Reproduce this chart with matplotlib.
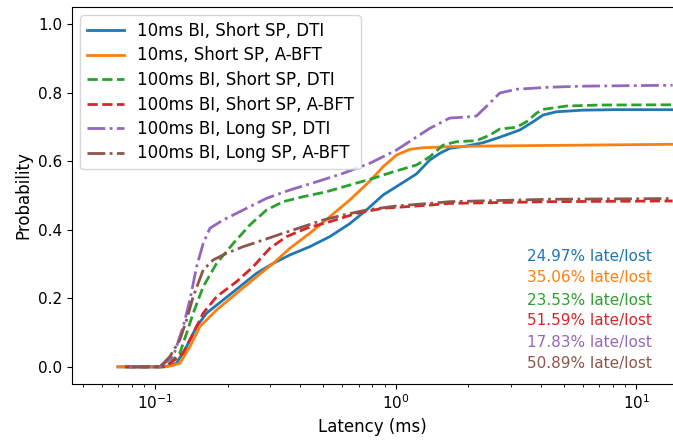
import matplotlib
matplotlib.use("Agg")
import matplotlib.pyplot as plt

# CDF de latência
labels = [
    "10ms BI, Short SP, DTI",
    "10ms, Short SP, A-BFT",
    "100ms BI, Short SP, DTI",
    "100ms BI, Short SP, A-BFT",
    "100ms BI, Long SP, DTI",
    "100ms BI, Long SP, A-BFT",
]
late_lost = ["24.97", "35.06", "23.53", "51.59", "17.83", "50.89"]

x_bi10_dti = [0.070, 0.108, 0.116, 0.1227, 0.1350, 0.1486, 0.1635, 0.1917, 0.2249,
              0.2638, 0.3093, 0.3628, 0.4393, 0.5318, 0.6441, 0.7555, 0.8856, 1.0390,
              1.2190, 1.3845, 1.5232, 1.6769, 1.9667, 2.3050, 2.7045, 3.2738, 3.7193,
              4.0926, 4.6521, 6.0006, 8.2583, 14.15]
y_bi10_dti = [0.0, 0.0, 0.004, 0.011, 0.059, 0.1175, 0.1566, 0.1953, 0.234,
              0.273, 0.302, 0.3265, 0.3507, 0.380, 0.418, 0.4577, 0.5015, 0.532,
              0.563, 0.6035, 0.623, 0.6376, 0.6443, 0.654, 0.670, 0.691, 0.715,
              0.7347, 0.7443, 0.749, 0.7505, 0.7503]

x_bi10_abft = [0.070, 0.110, 0.118, 0.1266, 0.1394, 0.1533, 0.1800, 0.2179, 0.2638,
               0.3093, 0.3628, 0.4393, 0.5318, 0.6441, 0.7798, 0.8856, 1.0068, 1.1435,
               1.2983, 1.6769, 2.3050, 14.15]
y_bi10_abft = [0.0, 0.0, 0.004, 0.0108, 0.059, 0.1175, 0.166, 0.2149, 0.263,
               0.302, 0.346, 0.390, 0.438, 0.487, 0.542, 0.584, 0.618, 0.6347,
               0.6394, 0.6423, 0.6443, 0.6494]

x_bi100_dti = [0.075, 0.1046, 0.1115, 0.1266, 0.1350, 0.1439, 0.1583, 0.1800, 0.2110,
               0.2474, 0.2903, 0.3403, 0.4120, 0.5154, 0.6441, 0.8048, 0.9745, 1.2190,
               1.3845, 1.5720, 1.7878, 2.1640, 2.4580, 2.7045, 3.1721, 3.4912, 3.8420,
               4.0926, 5.1192, 7.0389, 14.15]
y_bi100_dti = [0.0, 0.0, 0.002, 0.040, 0.098, 0.1566, 0.234, 0.302, 0.360,
               0.414, 0.4577, 0.482, 0.4965, 0.511, 0.5306, 0.550, 0.569, 0.589,
               0.613, 0.647, 0.657, 0.660, 0.676, 0.694, 0.699, 0.715, 0.740,
               0.7513, 0.761, 0.764, 0.7647]

x_bi100_abft = [0.075, 0.1046, 0.1115, 0.1307, 0.1439, 0.1583, 0.1800, 0.2179, 0.2554,
                0.2996, 0.3515, 0.4256, 0.5318, 0.6866, 0.8856, 1.3845, 1.6769, 4.3634,
                14.15]
y_bi100_abft = [0.0, 0.0, 0.002, 0.040, 0.098, 0.1566, 0.205, 0.2487, 0.2924,
                0.346, 0.380, 0.4044, 0.4236, 0.448, 0.4627, 0.472, 0.477, 0.482,
                0.4841]

x_long_dti = [0.078, 0.1046, 0.1188, 0.1307, 0.1394, 0.1486, 0.1583, 0.1688, 0.1917,
              0.2321, 0.2903, 0.3628, 0.4684, 0.6040, 0.7798, 1.0068, 1.3845, 1.6769,
              1.9667, 2.1640, 2.3900, 2.7045, 3.1721, 4.3634, 6.0006, 14.15]
y_long_dti = [0.0, 0.0, 0.030, 0.1175, 0.1953, 0.292, 0.360, 0.4044, 0.4286,
              0.4577, 0.4918, 0.516, 0.540, 0.5647, 0.594, 0.6327, 0.696, 0.726,
              0.729, 0.732, 0.761, 0.799, 0.810, 0.816, 0.819, 0.8217]

x_long_abft = [0.080, 0.1046, 0.1151, 0.1266, 0.1350, 0.1439, 0.1583, 0.1742, 0.1980,
               0.2321, 0.2810, 0.3403, 0.4120, 0.4989, 0.6040, 0.7555, 1.0068, 1.3845,
               1.6769, 4.3634, 14.15]
y_long_abft = [0.0, 0.0, 0.030, 0.0787, 0.137, 0.205, 0.2828, 0.312, 0.3315,
               0.3507, 0.370, 0.390, 0.409, 0.4286, 0.443, 0.4577, 0.4694, 0.477,
               0.482, 0.489, 0.4911]

note_y = [0.321, 0.2595, 0.195, 0.134, 0.070, 0.0087]

series = [
    (x_bi10_dti, y_bi10_dti, "C0", "-"),
    (x_bi10_abft, y_bi10_abft, "C1", "-"),
    (x_bi100_dti, y_bi100_dti, "C2", "--"),
    (x_bi100_abft, y_bi100_abft, "C3", "--"),
    (x_long_dti, y_long_dti, "C4", "-."),
    (x_long_abft, y_long_abft, "C5", "-."),
]

fig = plt.figure(figsize=(6.73, 4.41), dpi=100)
ax = fig.add_axes([72 / 673, 1 - 384 / 441, 1 - 72 / 673, (384 - 7) / 441])

for (xs, ys, color, ls), label in zip(series, labels):
    ax.plot(xs, ys, color=color, linestyle=ls, linewidth=2, label=label)

for (xs, ys, color, ls), pct, y in zip(series, late_lost, note_y):
    ax.text(11.58, y, f"{pct}% late/lost", color=color, fontsize=11,
            ha="right", va="center")

ax.set_xscale("log")
ax.set_xlim(0.0451, 14.2)
ax.set_ylim(-0.05, 1.05)
ax.set_yticks([0.0, 0.2, 0.4, 0.6, 0.8, 1.0])
ax.spines["right"].set_visible(False)
ax.tick_params(labelsize=11)
ax.set_xlabel("Latency (ms)", fontsize=12)
ax.set_ylabel("Probability", fontsize=12)
ax.legend(loc="upper left", fontsize=12, labelspacing=0.39, handlelength=2.2)

fig.savefig("out.png", dpi=100)
